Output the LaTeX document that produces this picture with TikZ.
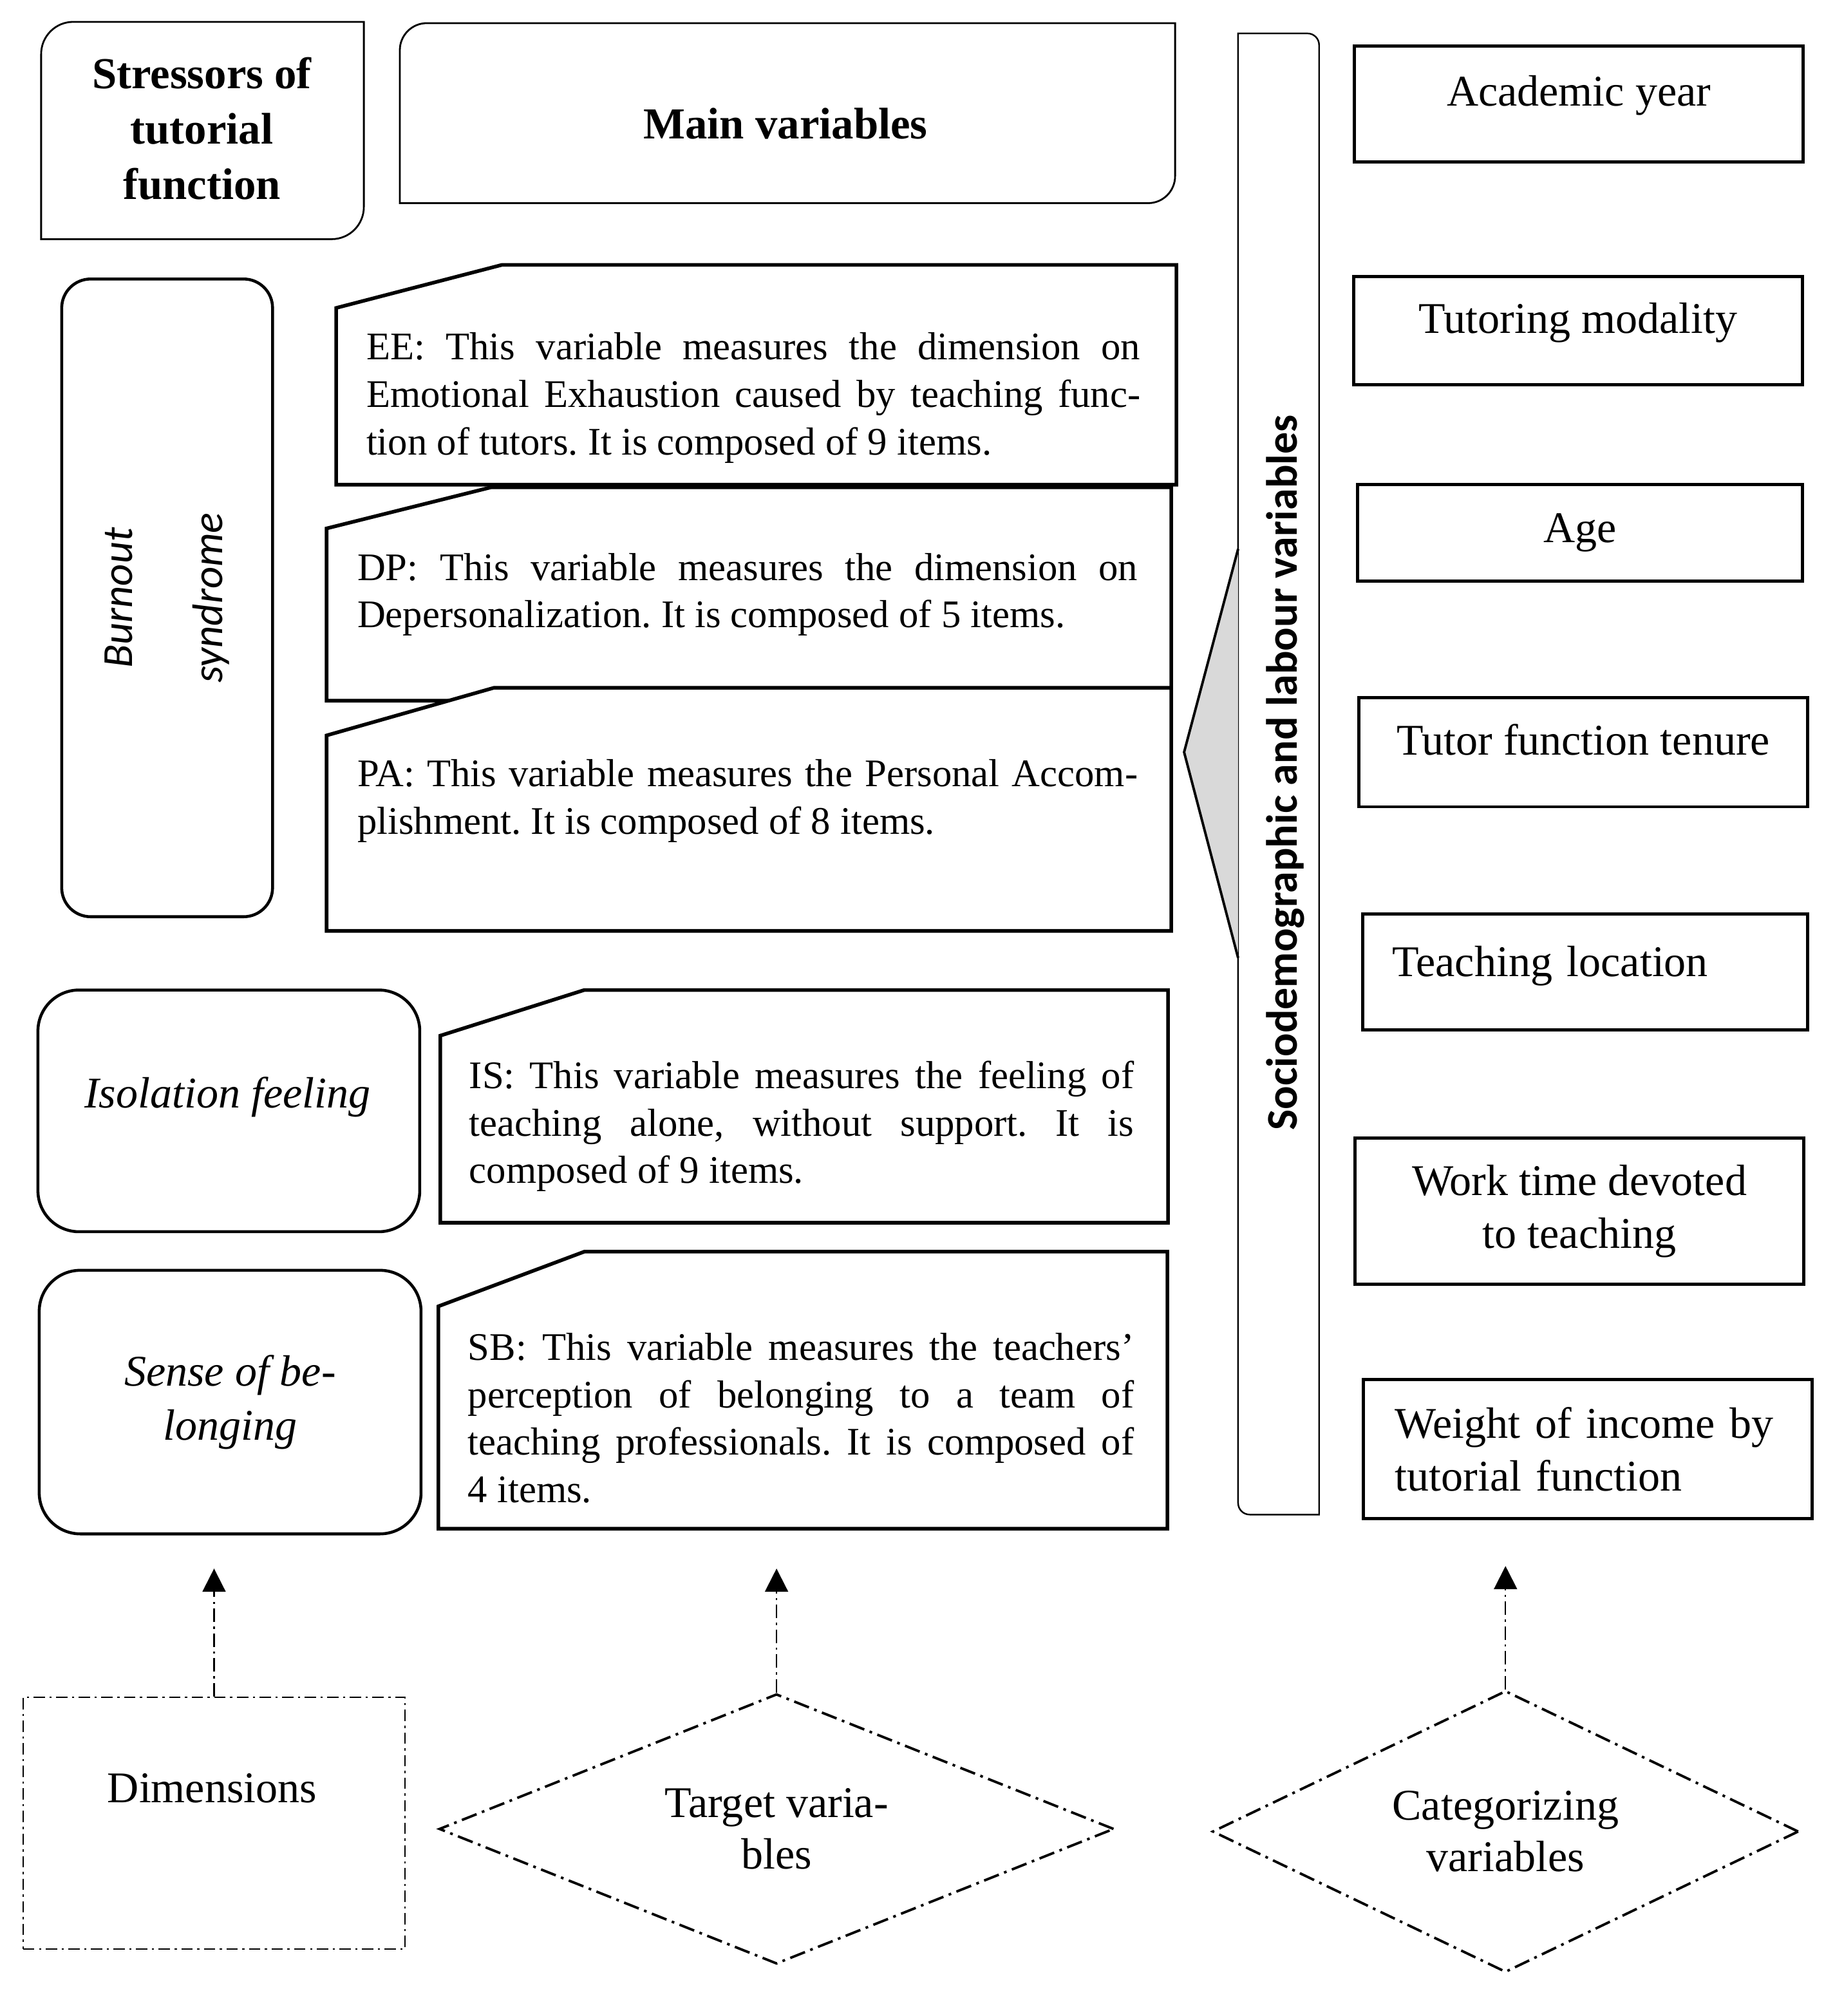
\documentclass[tikz,border=0pt]{standalone}
\usepackage{fontspec}
\setmainfont{Liberation Serif}
\newfontfamily\calfont{Carlito}
\usetikzlibrary{arrows.meta,shapes.geometric}
\newlength{\ux}
\setlength{\ux}{0.02cm}
\frenchspacing
\tikzset{
  bodyfont/.style ={font=\fontsize{17.3pt}{21pt}\selectfont},
  para/.style     ={bodyfont, inner sep=0pt, align=justify, text width=#1},
  headtxt/.style  ={font=\fontsize{19.6pt}{24.5pt}\selectfont\bfseries, align=center, inner sep=0pt},
  headline/.style ={line width=0.8pt},
  snipline/.style ={line width=1.6pt, line join=miter, fill=white},
  roundbox/.style ={draw, rounded corners=#1, line width=1.3pt, inner sep=0pt},
  dimtxt/.style   ={font=\fontsize{19.4pt}{23.8pt}\selectfont\itshape, align=center, inner sep=0pt},
  catbox/.style   ={draw, line width=1.4pt, inner sep=0pt, align=center,
                    font=\fontsize{19.4pt}{23.4pt}\selectfont},
  sideline/.style ={line width=0.7pt},
  keybox/.style   ={draw, line width=0.55pt, dash pattern=on 5pt off 2pt on 1pt off 2pt, inner sep=0pt},
  keydiam/.style  ={draw, diamond, line width=1.1pt, dash pattern=on 7pt off 2.5pt on 1.2pt off 2.5pt,
                    inner sep=0pt, align=center, font=\fontsize{19.4pt}{22.8pt}\selectfont},
  uparr/.style    ={-{Triangle[length=0.36cm, width=0.36cm]}, line width=0.6pt,
                    dash pattern=on 6pt off 2pt on 1pt off 2pt},
}
\begin{document}
\begin{tikzpicture}[x=\ux, y=-\ux]
\useasboundingbox (0,0) rectangle (1434,1568);

% column heads
\draw[headline] (32,186) -- (32,42) arc[start angle=180, end angle=90, radius=25\ux]
  -- (283,17) -- (283,161) arc[start angle=0, end angle=-90, radius=25\ux] -- cycle;
\node[headtxt] (stress) at (157,100) {Stressors of\\tutorial\\function};

\draw[headline] (311,158) -- (311,39) arc[start angle=180, end angle=90, radius=21\ux]
  -- (914,18) -- (914,137) arc[start angle=0, end angle=-90, radius=21\ux] -- cycle;
\node[headtxt] (mainvar) at (611,96) {Main variables};

% dimensions
\node[roundbox=0.45cm, rotate=90, minimum width=496\ux, minimum height=164\ux,
      font=\calfont\itshape\fontsize{19pt}{39.8pt}\selectfont, align=center] (burn) at (130,465)
  {Burnout\\syndrome};
\node[roundbox=0.64cm, minimum width=297\ux, minimum height=188\ux] (iso) at (178,864) {};
\node[dimtxt] (isotxt) at (177,853) {Isolation feeling};
\node[roundbox=0.64cm, minimum width=297\ux, minimum height=205\ux, dimtxt] (belong) at (179,1090.5)
  {Sense of be-\\longing};

% target variables
\draw[snipline] (261.5,239.5) -- (390.5,206) -- (915,206) -- (915,377) -- (261.5,377) -- cycle;
\draw[snipline] (254,411) -- (382,379) -- (911,379) -- (911,545) -- (254,545) -- cycle;
\draw[snipline] (254,572) -- (384,535) -- (911,535) -- (911,724) -- (254,724) -- cycle;
\draw[snipline] (342.5,805.5) -- (454.5,770) -- (908.5,770) -- (908.5,951) -- (342.5,951) -- cycle;
\draw[snipline] (341,1016) -- (454.5,973.5) -- (908,973.5) -- (908,1189) -- (341,1189) -- cycle;

\node[para=602\ux] (ee) at (586,309.5) {EE: This variable measures the dimension on\linebreak
  Emotional Exhaustion caused by teaching func-\linebreak tion of tutors. It is composed of 9 items.};
\node[para=607\ux] (dp) at (581.5,462.5) {DP: This variable measures the dimension on\linebreak
  Depersonalization. It is composed of 5 items.};
\node[para=607\ux] (pa) at (581.5,623) {PA: This variable measures the Personal Accom-\linebreak
  plishment. It is composed of 8 items.};
\node[para=517\ux] (is) at (623.5,876) {IS: This variable measures the feeling of\linebreak
  teaching alone, without support. It is\linebreak composed of 9 items.};
\node[para=518\ux] (sb) at (623,1103) {SB: This variable measures the teachers’\linebreak
  perception of belonging to a team of\linebreak teaching professionals. It is composed of\linebreak 4 items.};

% categorizing variables
\draw[sideline] (963,26) -- (1017,26) arc[start angle=90, end angle=0, radius=9\ux]
  -- (1026,1178) -- (972,1178) arc[start angle=270, end angle=180, radius=9\ux] -- cycle;
\fill[black!15] (963,427) -- (921,585) -- (963,745) -- cycle;
\draw[line width=1.1pt] (963,427) -- (921,585) -- (963,745);
\node[rotate=90, font=\calfont\bfseries\fontsize{19.4pt}{23pt}\selectfont] (socio) at (1000,601)
  {Sociodemographic and labour variables};

\node[catbox, minimum width=349\ux, minimum height=90\ux, text depth=21\ux] (year) at (1228,81)
  {Academic year};
\node[catbox, minimum width=349\ux, minimum height=84\ux, text depth=19\ux] (modal) at (1227.5,257)
  {Tutoring modality};
\node[catbox, minimum width=346\ux, minimum height=75\ux] (age) at (1229,414.5) {Age};
\node[catbox, minimum width=349\ux, minimum height=85\ux, text depth=20\ux] (tenure) at (1231.5,585)
  {Tutor function tenure};
\node[catbox, minimum width=346\ux, minimum height=90\ux, text depth=17\ux, text width=300\ux,
      align=left] (place) at (1233,756) {Teaching location};
\node[catbox, minimum width=349\ux, minimum height=114\ux] (worktime) at (1228.5,942)
  {Work time devoted\\to teaching};
\node[catbox, minimum width=349\ux, minimum height=108\ux, text width=300\ux, align=left] (income)
  at (1235,1127) {Weight of income by\\tutorial function};

% key
\node[keybox, minimum width=297\ux, minimum height=196\ux] (dims) at (166.5,1418) {};
\node[font=\fontsize{19.4pt}{23pt}\selectfont] (dimslbl) at (165,1391) {Dimensions};
\node[keydiam, aspect=2.5, minimum width=525\ux, minimum height=210\ux] (target) at (604,1422.5)
  {Target varia-\\bles};
\node[keydiam, aspect=2.08, minimum width=456\ux, minimum height=219\ux] (categ) at (1171,1424.5)
  {Categorizing\\variables};

\coordinate (dimsend) at (166.5,1220);
\coordinate (targetend) at (604,1220);
\coordinate (categend) at (1171,1218);
\draw[uparr] (dims) -- (dimsend);
\draw[uparr] (target) -- (targetend);
\draw[uparr] (categ) -- (categend);

\end{tikzpicture}
\end{document}
